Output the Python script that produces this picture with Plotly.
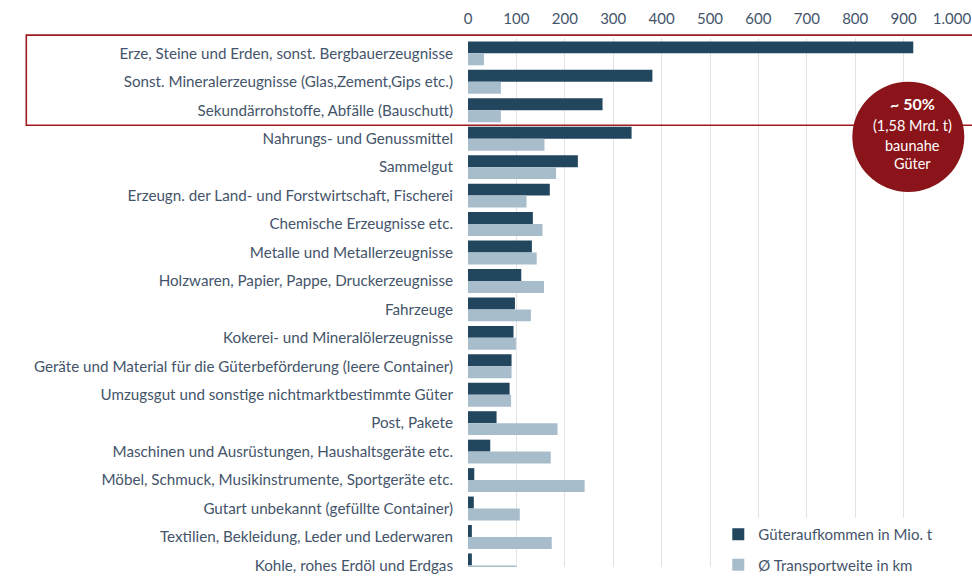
import plotly.graph_objects as go

categories = [
    "Erze, Steine und Erden, sonst. Bergbauerzeugnisse",
    "Sonst. Mineralerzeugnisse (Glas,Zement,Gips etc.)",
    "Sekundärrohstoffe, Abfälle (Bauschutt)",
    "Nahrungs- und Genussmittel",
    "Sammelgut",
    "Erzeugn. der Land- und Forstwirtschaft, Fischerei",
    "Chemische Erzeugnisse etc.",
    "Metalle und Metallerzeugnisse",
    "Holzwaren, Papier, Pappe, Druckerzeugnisse",
    "Fahrzeuge",
    "Kokerei- und Mineralölerzeugnisse",
    "Geräte und Material für die Güterbeförderung (leere Container)",
    "Umzugsgut und sonstige nichtmarktbestimmte Güter",
    "Post, Pakete",
    "Maschinen und Ausrüstungen, Haushaltsgeräte etc.",
    "Möbel, Schmuck, Musikinstrumente, Sportgeräte etc.",
    "Gutart unbekannt (gefüllte Container)",
    "Textilien, Bekleidung, Leder und Lederwaren",
    "Kohle, rohes Erdöl und Erdgas",
]
aufkommen = [920, 381, 278, 338, 227, 169, 134, 132, 110, 97, 94, 90, 86, 59, 46, 13, 12, 8, 8]
transportweite = [33, 68, 68, 158, 182, 121, 154, 142, 157, 130, 99, 90, 89, 185, 171, 241, 107, 173, 100]

tick_vals = [0, 100, 200, 300, 400, 500, 600, 700, 800, 900, 1000]
tick_text = ["0", "100", "200", "300", "400", "500", "600", "700", "800", "900", "1.000"]

series_names = ["Güteraufkommen in Mio. t", "Ø Transportweite in km"]

DARK = "#23465F"
LIGHT = "#A8BDCC"
TEXT = "#44546A"
RED = "#9E1B20"
CIRCLE = "#8A1419"
FONT = "Lato"

W, H = 972, 581
ML, MR, MT, MB = 467.7, 20.3, 38, 0
PW = W - ML - MR
PH = H - MT - MB

def px_x(p):
    return (p - ML) / PW

def px_y(p):
    return (H - MB - p) / PH

fig = go.Figure()
fig.add_trace(go.Bar(
    y=categories, x=aufkommen, orientation="h", name=series_names[0],
    marker=dict(color=DARK, line=dict(width=0)), legendgroup="a",
))
fig.add_trace(go.Bar(
    y=categories, x=transportweite, orientation="h", name=series_names[1],
    marker=dict(color=LIGHT, line=dict(width=0)), legendgroup="b",
))

row_px = 29.2
top_val = -0.54
bottom = top_val + PH / row_px

fig.update_layout(
    width=W, height=H,
    margin=dict(l=ML, r=MR, t=MT, b=MB, pad=0),
    paper_bgcolor="white", plot_bgcolor="white",
    barmode="group", bargap=0.16, bargroupgap=0.0,
    font=dict(family=FONT, color=TEXT, size=15),
    xaxis=dict(
        side="top", range=[0, 1000], tickvals=tick_vals, ticktext=tick_text,
        showgrid=True, gridcolor="#E3E3E3", gridwidth=1.3, zeroline=False,
        showline=False, ticks="", tickfont=dict(size=15, color=TEXT),
        ticklabelstandoff=10, fixedrange=True, automargin=False,
    ),
    yaxis=dict(
        type="category", categoryorder="array", categoryarray=categories,
        range=[bottom, top_val], showgrid=False, zeroline=False, showline=False,
        ticks="", tickfont=dict(size=15.2, color=TEXT), ticklabelstandoff=14,
        automargin=False, fixedrange=True,
    ),
    legend=dict(
        x=px_x(718), y=px_y(531), xanchor="left", yanchor="top",
        bgcolor="white", font=dict(size=15, color=TEXT),
        traceorder="grouped", tracegroupgap=8,
    ),
    showlegend=True,
)

fig.add_shape(type="rect", xref="paper", yref="paper",
              x0=px_x(26), x1=px_x(990), y0=px_y(127.5), y1=px_y(35),
              line=dict(color=RED, width=1.6), fillcolor="rgba(0,0,0,0)", layer="above")
fig.add_shape(type="circle", xref="paper", yref="paper",
              x0=px_x(852), x1=px_x(964), y0=px_y(196), y1=px_y(83),
              line=dict(color=CIRCLE, width=0), fillcolor=CIRCLE, layer="above")

labels = [("<b>~ 50%</b>", 105, 16), ("(1,58 Mrd. t)", 128, 14.5),
          ("baunahe", 148, 14.5), ("Güter", 167, 14.5)]
for txt, yy, fs in labels:
    fig.add_annotation(text=txt, xref="paper", yref="paper", x=px_x(912), y=px_y(yy),
                       xanchor="center", yanchor="middle", showarrow=False,
                       font=dict(family=FONT, size=fs, color="white"))

fig.write_html("out.html", config={"displayModeBar": False},
               post_script="document.body.style.margin='0';document.body.style.overflow='hidden';")
